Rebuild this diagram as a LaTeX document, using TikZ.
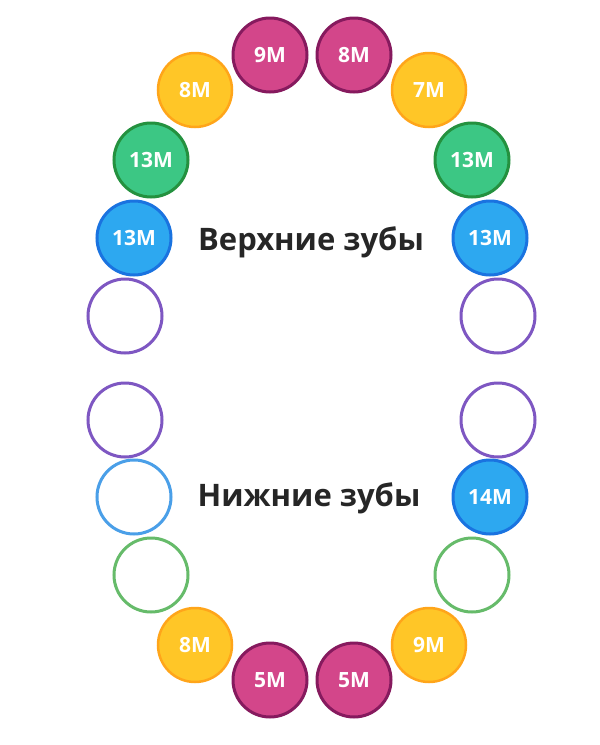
\documentclass[tikz,border=0pt]{standalone}
\usepackage{xcolor}
\usepackage{fontspec}
\setmainfont{Open Sans}
\usepackage{tikz}

\definecolor{pinkfill}{HTML}{D3468A}
\definecolor{pinkline}{HTML}{861A5E}
\definecolor{yellowfill}{HTML}{FFC627}
\definecolor{yellowline}{HTML}{FFA51A}
\definecolor{greenfill}{HTML}{3CC784}
\definecolor{greenline}{HTML}{24913F}
\definecolor{bluefill}{HTML}{2DA8F0}
\definecolor{blueline}{HTML}{1A73E0}
\definecolor{purpleline}{HTML}{7E57C2}
\definecolor{lightblueline}{HTML}{4A9FE8}
\definecolor{lightgreenline}{HTML}{66BB6A}

\begin{document}
\begin{tikzpicture}[x=1pt,y=-1pt,
  tooth/.style={circle,minimum size=74pt,inner sep=0pt,line width=3pt,
    text=white,font=\fontsize{21}{21}\selectfont\bfseries},
  pinktooth/.style={tooth,fill=pinkfill,draw=pinkline},
  yellowtooth/.style={tooth,fill=yellowfill,draw=yellowline,line width=2.5pt},
  greentooth/.style={tooth,fill=greenfill,draw=greenline},
  bluetooth/.style={tooth,fill=bluefill,draw=blueline},
  emptytooth/.style={tooth,fill=white,draw=#1},
  jawlabel/.style={text=black!85,font=\fontsize{31}{31}\selectfont\bfseries}]
\useasboundingbox (0,0) rectangle (600,745);
% upper jaw
\node[pinktooth] (u9) at (270,55) {9M};
\node[pinktooth] (u8r) at (354,55) {8M};
\node[yellowtooth] (u8) at (195,90) {8M};
\node[yellowtooth] (u7) at (429,90) {7M};
\node[greentooth] (u13l) at (151,160) {13M};
\node[greentooth] (u13r) at (472,160) {13M};
\node[bluetooth] (u13bl) at (134,238) {13M};
\node[bluetooth] (u13br) at (490,238) {13M};
\node[emptytooth=purpleline] (uel) at (125,316) {};
\node[emptytooth=purpleline] (uer) at (498,316) {};
\node[jawlabel] (upper) at (311,242) {Верхние зубы};
% lower jaw
\node[emptytooth=purpleline] (lel) at (125,420) {};
\node[emptytooth=purpleline] (ler) at (498,420) {};
\node[emptytooth=lightblueline] (lbl) at (134,497) {};
\node[bluetooth] (l14) at (490,497) {14M};
\node[emptytooth=lightgreenline] (lgl) at (151,575) {};
\node[emptytooth=lightgreenline] (lgr) at (472,575) {};
\node[yellowtooth] (l8) at (195,645) {8M};
\node[yellowtooth] (l9) at (429,645) {9M};
\node[pinktooth] (l5l) at (270,680) {5M};
\node[pinktooth] (l5r) at (354,680) {5M};
\node[jawlabel] (lower) at (309,498) {Нижние зубы};
\end{tikzpicture}
\end{document}
